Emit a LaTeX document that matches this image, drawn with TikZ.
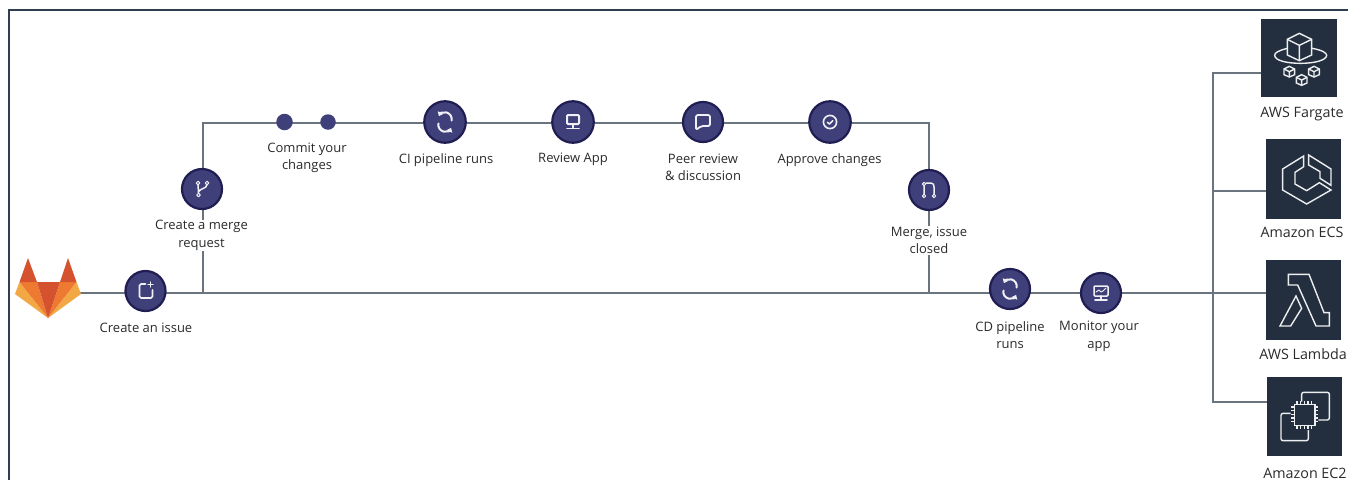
\documentclass[tikz,border=0pt]{standalone}
\usepackage{fontspec}
\setmainfont{Open Sans}
\usetikzlibrary{backgrounds,arrows.meta}
\definecolor{ring}{HTML}{201D52}
\definecolor{disc}{HTML}{3F4079}
\definecolor{wire}{HTML}{6A747E}
\definecolor{frameblue}{HTML}{2F3E50}
\definecolor{awsbox}{HTML}{232F3E}
\definecolor{ink}{HTML}{2B2B2B}
\definecolor{foxred}{HTML}{D4522E}
\definecolor{foxorange}{HTML}{EE7A31}
\definecolor{foxyellow}{HTML}{F2A844}
\tikzset{
  x=1pt,y=-1pt,
  stepdisc/.style={circle,fill=disc,draw=ring,line width=2.2pt,inner sep=0pt,minimum size=40pt},
  smalldot/.style={circle,fill=disc,inner sep=0pt,minimum size=16.5pt},
  lbl/.style={font=\fontsize{13}{17.5}\selectfont,text=ink,align=center,fill=white,inner sep=0.5pt},
  awslbl/.style={lbl,font=\fontsize{14.3}{17.5}\selectfont},
  awsnode/.style={rectangle,fill=awsbox,inner sep=0pt,minimum width=75pt,minimum height=79pt},
  wireline/.style={draw=wire,line width=1.1pt},
  glyph/.style={draw=white!92!disc,line width=1.5pt,line join=round,line cap=round},
  awsglyph/.style={draw=white!92!awsbox,line width=1.4pt,line join=miter},
  pics/syncglyph/.style={code={
    \draw[glyph,line width=2pt,-{Triangle[length=4pt,width=6pt]}] (-6.5,1.5) arc[start angle=193,end angle=25,radius=6.7];
    \draw[glyph,line width=2pt,-{Triangle[length=4pt,width=6pt]}] (6.5,-1.5) arc[start angle=13,end angle=-155,radius=6.7];
  }},
  pics/issueglyph/.style={code={
    \draw[glyph,line width=1.6pt,rounded corners=1.5pt] (0,-7) -- (-6,-7) -- (-6,7) -- (7,7) -- (7,-1);
    \draw[glyph,line width=1.1pt] (5,-9) -- (5,-4) (2.5,-6.5) -- (7.5,-6.5);
  }},
  pics/mrglyph/.style={code={
    \draw[glyph,line width=1pt] (-4,-6) circle[radius=1.8] (5,-6) circle[radius=1.8] (-3.5,6) circle[radius=1.8];
    \draw[glyph] (-4,-4.2) -- (-3.5,4.2) (5,-4.2) .. controls (4.5,0) and (-2,-1) .. (-3.5,3);
  }},
  pics/screenglyph/.style={code={
    \draw[glyph,line width=2pt,rounded corners=1pt] (-6,-7) rectangle (6,2);
    \draw[glyph,line width=1.8pt] (0,2) -- (0,5.5) (-6,6.5) -- (6,6.5);
  }},
  pics/bubbleglyph/.style={code={
    \draw[glyph,line width=1.8pt,rounded corners=2pt] (-7,-7) -- (7,-7) -- (7,4) -- (-2,4) -- (-7,8) -- cycle;
  }},
  pics/checkglyph/.style={code={
    \draw[glyph,line width=1.6pt] (0,0) circle[radius=6.6];
    \draw[glyph,line width=1.6pt] (-2.6,0.3) -- (-0.6,2) -- (2.8,-1.4);
  }},
  pics/mergeglyph/.style={code={
    \draw[glyph,line width=1pt] (-5,-6) circle[radius=1.7] (-5,6) circle[radius=1.7] (5,6) circle[radius=1.7];
    \draw[glyph] (-5,-4.4) -- (-5,4.4) (-3,-7) -- (2,-7) .. controls (4.5,-7) and (5,-5) .. (5,-3) -- (5,4.4);
  }},
  pics/chartglyph/.style={code={
    \draw[glyph,rounded corners=1pt] (-7,-7) rectangle (7,3);
    \draw[glyph,line width=1pt] (-5,-1) -- (-2,-3) -- (0,-1) -- (2,-2) -- (5,-5);
    \draw[glyph,line width=1.8pt] (0,3) -- (0,6) (-6,6.8) -- (6,6.8);
  }},
}
\begin{document}
\begin{tikzpicture}
\useasboundingbox (0,0) rectangle (1348,480);
% frame
\draw[frameblue,line width=1.5pt] (1348,10) -- (9,10) -- (9,480);
% logo
\fill[foxyellow] (19.5,282) -- (15,294) -- (48,318) -- cycle;
\fill[foxyellow] (76.5,282) -- (81,294) -- (48,318) -- cycle;
\fill[foxorange] (19.5,282) -- (37,282) -- (48,318) -- cycle;
\fill[foxorange] (76.5,282) -- (60,282) -- (48,318) -- cycle;
\fill[foxred] (37,282) -- (60,282) -- (48,318) -- cycle;
\fill[foxred] (28,258) -- (37,282) -- (19.5,282) -- cycle;
\fill[foxred] (68,258) -- (76.5,282) -- (60,282) -- cycle;
\coordinate (logo) at (80,293);
% step discs
\node[stepdisc] (issue) at (145.5,291) {};
\node[stepdisc] (mr) at (202,189) {};
\node[smalldot] (c1) at (284.5,122) {};
\node[smalldot,minimum size=15.5pt] (c2) at (328,122) {};
\node[stepdisc,minimum size=41.5pt] (ci) at (445,122) {};
\node[stepdisc,minimum size=41.5pt] (review) at (573,122) {};
\node[stepdisc] (peer) at (703,122) {};
\node[stepdisc,minimum size=41.5pt] (approve) at (830,122) {};
\node[stepdisc] (merge) at (929,190) {};
\node[stepdisc] (cd) at (1010,289) {};
\node[stepdisc] (monitor) at (1101,293) {};
\pic at (issue) {issueglyph};
\pic at (mr) {mrglyph};
\pic at (ci) {syncglyph};
\pic at (review) {screenglyph};
\pic at (peer) {bubbleglyph};
\pic at (approve) {checkglyph};
\pic at (merge) {mergeglyph};
\pic at (cd) {syncglyph};
\pic at (monitor) {chartglyph};
% labels
\node[lbl] (lissue) at (146,327.5) {Create an issue};
\node[lbl] (lmr) at (201.5,235.5) {Create a merge\\request};
\node[lbl] (lc) at (307,158) {Commit your\\changes};
\node[lbl] (lci) at (446,160.5) {CI pipeline runs};
\node[lbl] (lrev) at (573,159.5) {Review App};
\node[lbl] (lpeer) at (703,167.5) {Peer review\\\& discussion};
\node[lbl] (lapp) at (829.5,160) {Approve changes};
\node[lbl] (lmerge) at (929,240.5) {Merge, issue\\closed};
\node[lbl] (lcd) at (1010,335) {CD pipeline\\runs};
\node[lbl] (lmon) at (1099,336.5) {Monitor your\\app};
% targets
\node[awsnode,minimum width=76pt,minimum height=78pt] (fargate) at (1299,58) {};
\node[awsnode,minimum height=80pt] (ecs) at (1303.5,179) {};
\node[awsnode,minimum height=80pt] (lambda) at (1303.5,300) {};
\node[awsnode] (ec2) at (1304.5,416.5) {};
\node[awslbl] (lfar) at (1302,114) {AWS Fargate};
\node[awslbl] (lecs) at (1302,232.5) {Amazon ECS};
\node[awslbl] (llam) at (1303,354.5) {AWS Lambda};
\node[awslbl] (lec2) at (1305,473.5) {Amazon EC2};
% glyphs of targets: drawn in 3x crop coordinates
\begin{scope}[shift={(1200,0)},x=0.33333pt,y=-0.33333pt,awsglyph]
  % Fargate
  \draw (262,145) .. controls (235,152) and (224,158) .. (224,166) .. controls (224,182) and (262,190) .. (302,190) .. controls (345,190) and (380,180) .. (380,166) .. controls (380,158) and (365,150) .. (336,145);
  \draw[fill=awsbox] (298,100) -- (335,118) -- (335,165) -- (298,182) -- (262,165) -- (262,118) -- cycle;
  \draw (262,118) -- (298,136) -- (335,118) (298,136) -- (298,182);
  \foreach \cx/\cy in {268/215,342/215,305/240}{
    \draw[fill=awsbox] (\cx,\cy-16) -- (\cx+16,\cy-8) -- (\cx+16,\cy+9) -- (\cx,\cy+16) -- (\cx-16,\cy+9) -- (\cx-16,\cy-8) -- cycle;
    \draw (\cx-16,\cy-8) -- (\cx,\cy) -- (\cx+16,\cy-8) (\cx,\cy) -- (\cx,\cy+16);
  }
  % ECS
  \draw (311,468) -- (248,507) -- (248,570) -- (320,612) -- (393,570) -- (358,548) -- (320,572) -- (285,552) -- (285,517) -- (311,500) -- cycle;
  \draw (326,465) -- (393,507) -- (393,556) -- (360,535) -- (360,515) -- (326,495) -- cycle;
  % Lambda
  \draw (265,823) -- (327,823) -- (372,938) -- (388,938) -- (388,978) -- (348,978) -- (293,855) -- (265,855) -- cycle;
  \draw (288,888) -- (305,925) -- (272,978) -- (240,978) -- cycle;
  % EC2
  \draw[rounded corners=2pt] (305,1205) -- (305,1177) -- (388,1177) -- (388,1260) -- (355,1260);
  \draw[rounded corners=2pt] (272,1240) -- (243,1240) -- (243,1322) -- (325,1322) -- (325,1290);
  \draw (283,1213) rectangle (345,1277);
  \foreach \k in {0,1,2,3,4}{
    \draw (291+\k*11,1213) -- (291+\k*11,1203) (291+\k*11,1277) -- (291+\k*11,1287);
    \draw (283,1221+\k*11) -- (273,1221+\k*11) (345,1221+\k*11) -- (355,1221+\k*11);
  }
\end{scope}
% connectors
\begin{scope}[on background layer]
  \coordinate (jl) at (203,293);
  \coordinate (jr) at (929,293);
  \coordinate (tl) at (203,123);
  \coordinate (tr) at (929,123);
  \coordinate (bt) at (1213,73);
  \coordinate (bm) at (1213,191);
  \coordinate (bl) at (1213,293);
  \coordinate (bb) at (1213,402);
  \draw[wireline] (logo) -- (lambda.west |- logo);
  \draw[wireline] (jl) -- (tl) -- (tr) -- (jr);
  \draw[wireline] (fargate.west |- bt) -- (bt) -- (bb) -- (bb -| ec2.west);
  \draw[wireline] (bm) -- (bm -| ecs.west);
\end{scope}
\end{tikzpicture}
\end{document}
